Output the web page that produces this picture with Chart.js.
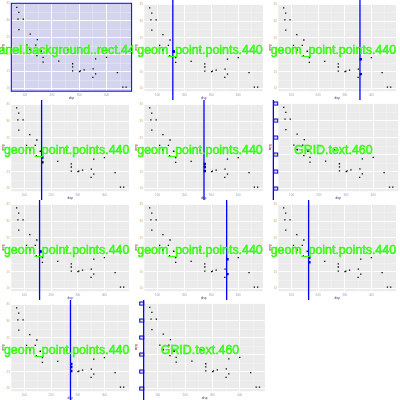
<!DOCTYPE html>
<html><head><meta charset="utf-8">
<script src="https://cdn.jsdelivr.net/npm/chart.js@4.4.1/dist/chart.umd.min.js"></script>
<style>
html,body{margin:0;padding:0;background:#fff;}
#wrap{position:relative;width:400px;height:400px;overflow:hidden;background:#fff;}
canvas{position:absolute;display:block;}
</style></head><body><div id="wrap"></div>
<script>
// data (mtcars: disp vs mpg)
const disp = [160,160,108,258,360,225,360,146.7,140.8,167.6,167.6,275.8,275.8,275.8,472,460,440,78.7,75.7,71.1,120.1,318,304,350,400,79,120.3,95.1,351,145,301,121];
const mpg  = [21,21,22.8,21.4,18.7,18.1,14.3,24.4,22.8,19.2,17.8,16.4,17.3,15.2,10.4,10.4,14.7,32.4,30.4,33.9,21.5,15.5,15.2,13.3,19.2,27.3,26,30.4,15.8,19.7,15,21.4];
const xTickLabels = [100,200,300,400];
const yTickLabels = [10,15,20,25,30,35];
const xMinorTicks = [150,250,350,450];
const yMinorTicks = [12.5,17.5,22.5,27.5,32.5];
const xTitle = 'disp';
const yTitle = 'mpg';
const cellLabels = ['panel.background..rect.440','geom_point.points.440','geom_point.points.440','geom_point.points.440','geom_point.points.440','GRID.text.460','geom_point.points.440','geom_point.points.440','geom_point.points.440','geom_point.points.440','GRID.text.460'];
const cellKinds = ['panel','point','point','point','point','text','point','point','point','point','text'];
const highlightDisp = [null,160,360,167.6,275.8,null,160,360,167.6,275.8,null];
const textLineX = [null,null,null,null,null,6.7,null,null,null,null,10.3];

const xr = Math.max(...disp) - Math.min(...disp);
const yr = Math.max(...mpg) - Math.min(...mpg);
const xMin = Math.min(...disp) - 0.05*xr, xMax = Math.max(...disp) + 0.05*xr;
const yMin = Math.min(...mpg) - 0.05*yr, yMax = Math.max(...mpg) + 0.05*yr;

const cellPlugin = {
  id: 'cell',
  beforeDraw(chart, args, o) {
    const {ctx, chartArea: a} = chart;
    ctx.save();
    ctx.fillStyle = o.kind === 'panel' ? '#D4D4EE' : '#EBEBEB';
    ctx.fillRect(a.left, a.top, a.right - a.left, a.bottom - a.top);
    ctx.restore();
  },
  afterDatasetsDraw(chart, args, o) {
    const {ctx, chartArea: a} = chart;
    const H = chart.height;
    ctx.save();
    ctx.strokeStyle = '#0000FF';
    if (o.kind === 'panel') {
      ctx.lineWidth = 1;
      ctx.strokeRect(a.left, a.top, a.right - a.left, a.bottom - a.top);
    } else if (o.kind === 'point') {
      const x = chart.scales.x.getPixelForValue(o.hx) - 0.8;
      ctx.lineWidth = 1.3;
      ctx.beginPath(); ctx.moveTo(x, 0); ctx.lineTo(x, H); ctx.stroke();
    } else if (o.kind === 'text') {
      ctx.lineWidth = 1;
      yTickLabels.forEach(v => {
        const y = chart.scales.y.getPixelForValue(v);
        ctx.strokeRect(6.7, y - 1.5, 4, 3);
      });
      ctx.lineWidth = 1.3;
      ctx.beginPath(); ctx.moveTo(o.lx, 0); ctx.lineTo(o.lx, H); ctx.stroke();
    }
    ctx.restore();
  },
  afterDraw(chart, args, o) {
    const ctx = chart.ctx;
    ctx.save();
    ctx.font = '12.4px "Liberation Sans", Arial, sans-serif';
    ctx.textAlign = 'center';
    ctx.textBaseline = 'alphabetic';
    ctx.lineWidth = 0.4;
    ctx.strokeStyle = '#00FF00';
    ctx.fillStyle = '#66FF00';
    ctx.fillText(o.label, o.cx, 53.8);
    ctx.strokeText(o.label, o.cx, 53.8);
    ctx.restore();
  }
};

const wrap = document.getElementById('wrap');
cellLabels.forEach((label, i) => {
  const col = i % 3, row = Math.floor(i / 3);
  const left = Math.round(col * 400 / 3);
  const right = Math.round((col + 1) * 400 / 3);
  const W = right - left, H = 100;
  const cv = document.createElement('canvas');
  cv.width = W; cv.height = H;
  cv.style.left = left + 'px'; cv.style.top = (row * 100) + 'px';
  cv.style.width = W + 'px'; cv.style.height = H + 'px';
  wrap.appendChild(cv);
  const off = col * 400 / 3 - left;
  const panelRight = 131.6 + off;
  const hx = highlightDisp[i];
  const hiPts = hx === null ? [] : disp.map((d, k) => ({x: d, y: mpg[k]})).filter(p => p.x === hx);
  new Chart(cv, {
    type: 'scatter',
    data: {
      datasets: [
        {data: disp.map((d, k) => ({x: d, y: mpg[k]})), pointStyle: 'rect', backgroundColor: '#000', borderWidth: 0, pointRadius: 0.9, pointHoverRadius: 0.9},
        {data: hiPts, pointStyle: 'rect', pointRadius: 1.7, backgroundColor: '#0000FF', borderWidth: 0}
      ]
    },
    options: {
      responsive: false, animation: false, devicePixelRatio: 1,
      events: [],
      layout: {padding: {top: 1.5, right: W - panelRight, left: 0, bottom: 0}},
      plugins: {legend: {display: false}, tooltip: {enabled: false},
        cell: {kind: cellKinds[i], label: label, cx: 200 / 3 + off, hx: hx, lx: textLineX[i] === null ? 0 : textLineX[i] + off}},
      scales: {
        x: {
          type: 'linear', min: xMin, max: xMax,
          afterBuildTicks: s => { s.ticks = [...xTickLabels, ...xMinorTicks].sort((a, b) => a - b).map(v => ({value: v})); },
          afterFit: s => { s.height = 8.8; },
          ticks: {autoSkip: false, maxRotation: 0, padding: 1.8, color: '#8FA6CC', font: {size: 3, family: 'Liberation Sans'},
            callback: v => xTickLabels.includes(v) ? String(v) : ''},
          grid: {drawTicks: false, color: c => xTickLabels.includes(c.tick && c.tick.value) ? 'rgba(255,255,255,0.9)' : 'rgba(255,255,255,0.45)',
            lineWidth: c => xTickLabels.includes(c.tick && c.tick.value) ? 1 : 0.6},
          border: {display: false},
          title: {display: true, text: xTitle, color: '#503070', font: {size: 3, family: 'Liberation Sans'}, padding: {top: 0, bottom: 0.3}}
        },
        y: {
          type: 'linear', min: yMin, max: yMax,
          afterBuildTicks: s => { s.ticks = [...yTickLabels, ...yMinorTicks].sort((a, b) => a - b).map(v => ({value: v})); },
          afterFit: s => { s.width = 11.3; },
          ticks: {autoSkip: false, padding: 1.5, color: '#D4A06A', font: {size: 3, family: 'Liberation Sans'},
            callback: v => yTickLabels.includes(v) ? String(v) : ''},
          grid: {drawTicks: false, color: c => yTickLabels.includes(c.tick && c.tick.value) ? 'rgba(255,255,255,0.9)' : 'rgba(255,255,255,0.45)',
            lineWidth: c => yTickLabels.includes(c.tick && c.tick.value) ? 1 : 0.6},
          border: {display: false},
          title: {display: true, text: yTitle, color: '#801010', font: {size: 3, family: 'Liberation Sans'}, padding: {top: 1.2, bottom: 0}}
        }
      }
    },
    plugins: [cellPlugin]
  });
});
</script>
</body></html>
